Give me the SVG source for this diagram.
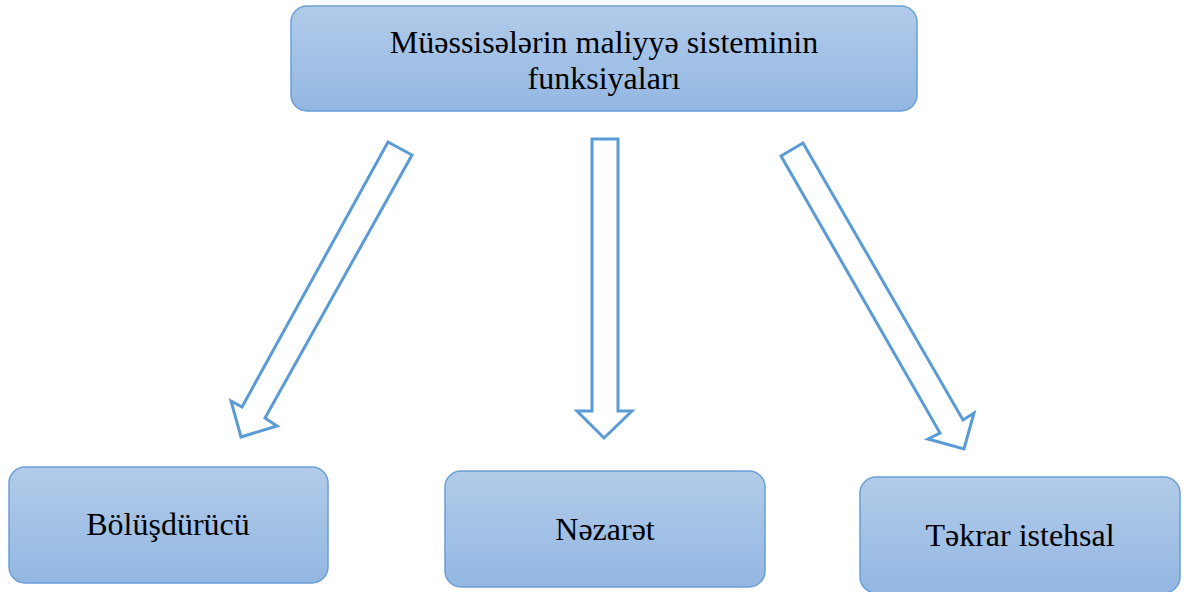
<svg xmlns="http://www.w3.org/2000/svg" width="1184" height="592" viewBox="0 0 1184 592">
  <defs>
    <linearGradient id="boxFill" x1="0" y1="0" x2="0" y2="1">
      <stop offset="0" stop-color="#b2cbe9"/>
      <stop offset="1" stop-color="#93b7e2"/>
    </linearGradient>
    <style>
      .box { fill: url(#boxFill); stroke: #6b9fd6; stroke-width: 1.5; }
      .arrow { fill: #ffffff; stroke: #5b9bd5; stroke-width: 3; stroke-linejoin: miter; }
    </style>
  </defs>
  <rect width="1184" height="592" fill="#ffffff"/>

  <g id="node-root">
    <rect class="box" x="291" y="6" width="626" height="105" rx="16"/>
    <text x="604" y="53" text-anchor="middle" font-family="Liberation Serif" font-size="32" fill="#000">Müəssisələrin maliyyə sisteminin</text>
    <text x="604" y="89" text-anchor="middle" font-family="Liberation Serif" font-size="32" fill="#000">funksiyaları</text>
  </g>

  <g id="connectors">
    <polygon class="arrow" points="388,142 412,155 265,418 277,426 241,437 231,401 242,407"/>
    <polygon class="arrow" points="592,139 618,139 618,411 632,411 604,438 577,411 592,411"/>
    <polygon class="arrow" points="781,156 803,143 963,420 974,413 964,449 928,439 940,433"/>
  </g>

  <g id="node-distribution">
    <rect class="box" x="9" y="467" width="319" height="116" rx="16"/>
    <text x="168" y="535" text-anchor="middle" font-family="Liberation Serif" font-size="32" fill="#000">Bölüşdürücü</text>
  </g>

  <g id="node-control">
    <rect class="box" x="445" y="471" width="320" height="116" rx="16"/>
    <text x="605" y="540" text-anchor="middle" font-family="Liberation Serif" font-size="32" fill="#000">Nəzarət</text>
  </g>

  <g id="node-reproduction">
    <rect class="box" x="860" y="477" width="320" height="116" rx="16"/>
    <text x="1020" y="546" text-anchor="middle" font-family="Liberation Serif" font-size="32" fill="#000">Təkrar istehsal</text>
  </g>
</svg>
